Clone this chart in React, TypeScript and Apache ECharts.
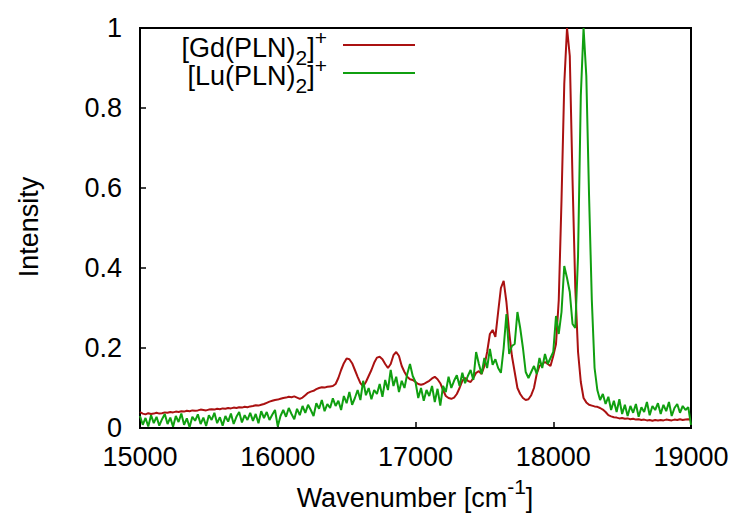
import React, { useEffect, useRef } from "react";
import * as echarts from "echarts";

// Wavenumber grid [cm^-1]
const WAVENUMBER: number[] = [
  15000, 15020, 15040, 15060, 15080, 15100, 15120, 15140, 15160, 15180,
  15200, 15220, 15240, 15260, 15280, 15300, 15320, 15340, 15360, 15380,
  15400, 15420, 15440, 15460, 15480, 15500, 15520, 15540, 15560, 15580,
  15600, 15620, 15640, 15660, 15680, 15700, 15720, 15740, 15760, 15780,
  15800, 15820, 15840, 15860, 15880, 15900, 15920, 15940, 15960, 15980,
  16000, 16020, 16040, 16060, 16080, 16100, 16120, 16140, 16160, 16180,
  16200, 16220, 16240, 16260, 16280, 16300, 16320, 16340, 16360, 16380,
  16400, 16420, 16440, 16460, 16480, 16500, 16520, 16540, 16560, 16580,
  16600, 16620, 16640, 16660, 16680, 16700, 16720, 16740, 16760, 16780,
  16800, 16820, 16840, 16860, 16880, 16900, 16920, 16940, 16960, 16980,
  17000, 17020, 17040, 17060, 17080, 17100, 17120, 17140, 17160, 17180,
  17200, 17220, 17240, 17260, 17280, 17300, 17320, 17340, 17360, 17380,
  17400, 17420, 17440, 17460, 17480, 17500, 17520, 17540, 17560, 17580,
  17600, 17620, 17640, 17660, 17680, 17700, 17720, 17740, 17760, 17780,
  17800, 17820, 17840, 17860, 17880, 17900, 17920, 17940, 17960, 17980,
  18000, 18020, 18040, 18060, 18080, 18100, 18120, 18140, 18160, 18180,
  18200, 18220, 18240, 18260, 18280, 18300, 18320, 18340, 18360, 18380,
  18400, 18420, 18440, 18460, 18480, 18500, 18520, 18540, 18560, 18580,
  18600, 18620, 18640, 18660, 18680, 18700, 18720, 18740, 18760, 18780,
  18800, 18820, 18840, 18860, 18880, 18900, 18920, 18940, 18960, 18980,
  19000,
];

// [Gd(PLN)2]+ intensity
const GD_INTENSITY: number[] = [
  0.040, 0.036, 0.034, 0.037, 0.035, 0.036, 0.038, 0.036, 0.037, 0.039,
  0.038, 0.040, 0.039, 0.041, 0.040, 0.042, 0.041, 0.043, 0.042, 0.044,
  0.043, 0.044, 0.046, 0.045, 0.044, 0.046, 0.047, 0.046, 0.048, 0.047,
  0.049, 0.048, 0.050, 0.049, 0.051, 0.050, 0.052, 0.051, 0.053, 0.052,
  0.054, 0.055, 0.057, 0.056, 0.058, 0.060, 0.063, 0.066, 0.068, 0.070,
  0.071, 0.073, 0.075, 0.076, 0.078, 0.077, 0.079, 0.076, 0.073, 0.076,
  0.082, 0.088, 0.091, 0.093, 0.097, 0.100, 0.102, 0.101, 0.103, 0.104,
  0.105, 0.110, 0.125, 0.145, 0.162, 0.174, 0.172, 0.162, 0.145, 0.128,
  0.112, 0.104, 0.115, 0.130, 0.145, 0.163, 0.176, 0.178, 0.172, 0.160,
  0.150, 0.160, 0.182, 0.190, 0.180, 0.155, 0.140, 0.128, 0.122, 0.120,
  0.115, 0.110, 0.108, 0.110, 0.114, 0.118, 0.124, 0.128, 0.122, 0.112,
  0.095, 0.080, 0.075, 0.073, 0.076, 0.085, 0.100, 0.118, 0.125, 0.118,
  0.115, 0.125, 0.138, 0.142, 0.135, 0.155, 0.190, 0.235, 0.245, 0.228,
  0.290, 0.350, 0.368, 0.315, 0.240, 0.180, 0.140, 0.100, 0.085, 0.075,
  0.070, 0.072, 0.082, 0.100, 0.135, 0.155, 0.160, 0.165, 0.160, 0.155,
  0.180, 0.210, 0.320, 0.570, 0.860, 1.000, 0.930, 0.620, 0.350, 0.190,
  0.115, 0.075, 0.064, 0.058, 0.056, 0.054, 0.053, 0.050, 0.046, 0.040,
  0.032, 0.029, 0.027, 0.026, 0.024, 0.025, 0.023, 0.024, 0.022, 0.023,
  0.021, 0.022, 0.020, 0.021, 0.019, 0.020, 0.018, 0.020, 0.019, 0.020,
  0.019, 0.021, 0.020, 0.019, 0.021, 0.020, 0.022, 0.020, 0.021, 0.022,
  0.021,
];

// [Lu(PLN)2]+ intensity
const LU_INTENSITY: number[] = [
  0.030, 0.008, 0.025, 0.004, 0.032, 0.012, 0.028, 0.006, 0.022, 0.035,
  0.010, 0.026, 0.003, 0.030, 0.015, 0.036, 0.008, 0.024, 0.002, 0.028,
  0.018, 0.034, 0.010, 0.026, 0.005, 0.032, 0.020, 0.038, 0.012, 0.027,
  0.006, 0.030, 0.016, 0.036, 0.010, 0.028, 0.040, 0.014, 0.032, 0.020,
  0.038, 0.018, 0.035, 0.012, 0.042, 0.025, 0.040, 0.020, 0.033, 0.045,
  0.004, 0.030, 0.045, 0.028, 0.050, 0.035, 0.022, 0.048, 0.032, 0.055,
  0.038, 0.058, 0.045, 0.030, 0.062, 0.048, 0.070, 0.042, 0.060, 0.050,
  0.074, 0.055, 0.068, 0.045, 0.080, 0.062, 0.090, 0.058, 0.075, 0.095,
  0.070, 0.118, 0.082, 0.100, 0.072, 0.095, 0.085, 0.110, 0.078, 0.120,
  0.095, 0.145, 0.105, 0.128, 0.090, 0.118, 0.100, 0.135, 0.160, 0.130,
  0.115, 0.075, 0.100, 0.068, 0.095, 0.080, 0.105, 0.065, 0.098, 0.056,
  0.105, 0.090, 0.128, 0.100, 0.118, 0.132, 0.105, 0.138, 0.112, 0.130,
  0.145, 0.120, 0.190, 0.160, 0.135, 0.175, 0.150, 0.198, 0.158, 0.172,
  0.150, 0.138, 0.200, 0.285, 0.185, 0.205, 0.210, 0.290, 0.250, 0.200,
  0.140, 0.125, 0.140, 0.155, 0.135, 0.175, 0.150, 0.185, 0.160, 0.175,
  0.190, 0.280, 0.235, 0.290, 0.405, 0.375, 0.340, 0.260, 0.250, 0.430,
  0.830, 1.000, 0.880, 0.580, 0.320, 0.150, 0.095, 0.070, 0.085, 0.060,
  0.078, 0.045, 0.068, 0.040, 0.072, 0.035, 0.058, 0.030, 0.055, 0.038,
  0.060, 0.028, 0.052, 0.040, 0.065, 0.032, 0.055, 0.045, 0.062, 0.035,
  0.058, 0.042, 0.065, 0.030, 0.050, 0.060, 0.038, 0.055, 0.045, 0.052,
  0.008,
];

const X_TICKS: number[] = [15000, 16000, 17000, 18000, 19000];
const Y_TICKS: number[] = [0, 0.2, 0.4, 0.6, 0.8, 1];

const GD_COLOR = "#aa1111";
const LU_COLOR = "#109f10";
const FONT = '"Liberation Sans", Arial, sans-serif';
const FS = 27;
const FS_SMALL = 21;

function measure(text: string, size: number): number {
  const c = document.createElement("canvas").getContext("2d");
  if (!c) return text.length * size * 0.55;
  c.font = `${size}px ${FONT}`;
  return c.measureText(text).width;
}

// central baseline offset (text placed with verticalAlign middle)
const mid = (baseline: number, size: number) => baseline - 0.3465 * size;

function txt(text: string, x: number, baseline: number, size: number, extra: any = {}) {
  return {
    type: "text",
    x,
    y: mid(baseline, size),
    silent: true,
    style: {
      text,
      font: `${size}px ${FONT}`,
      fill: "#000",
      align: "left",
      verticalAlign: "middle",
      textAlign: "left",
      textVerticalAlign: "middle",
    },
    ...extra,
  };
}

function legendLabel(head: string, rightX: number, baseline: number) {
  const wHead = measure(head, FS);
  const wSub = measure("2", FS_SMALL);
  const wBr = measure("]", FS);
  const wSup = measure("+", FS_SMALL);
  const total = wHead + wSub + wBr + wSup;
  let x = rightX - total;
  const els: any[] = [];
  els.push(txt(head, x, baseline, FS));
  x += wHead;
  els.push(txt("2", x, baseline + 8, FS_SMALL));
  x += wSub;
  els.push(txt("]", x, baseline, FS));
  x += wBr;
  els.push(txt("+", x, baseline - 12, FS_SMALL));
  return els;
}

function xTitle(centerX: number, baseline: number) {
  const a = "Wavenumber [cm";
  const s = "-1";
  const b = "]";
  const wa = measure(a, FS);
  const ws = measure(s, FS_SMALL);
  const wb = measure(b, FS);
  let x = centerX - (wa + ws + wb) / 2;
  const els: any[] = [];
  els.push(txt(a, x, baseline, FS));
  x += wa;
  els.push(txt(s, x, baseline - 13, FS_SMALL));
  x += ws;
  els.push(txt(b, x, baseline, FS));
  return els;
}

export default function App() {
  const ref = useRef<HTMLDivElement>(null);

  useEffect(() => {
    if (!ref.current) return;
    const chart = echarts.init(ref.current, undefined, { renderer: "svg" });

    const gdData = WAVENUMBER.map((w, i) => [w, GD_INTENSITY[i]]);
    const luData = WAVENUMBER.map((w, i) => [w, LU_INTENSITY[i]]);

    const graphic: any[] = [
      ...legendLabel("[Gd(PLN)", 327, 57),
      ...legendLabel("[Lu(PLN)", 327, 85),
      {
        type: "line",
        silent: true,
        shape: { x1: 343, y1: 45, x2: 415, y2: 45 },
        style: { stroke: GD_COLOR, lineWidth: 2 },
      },
      {
        type: "line",
        silent: true,
        shape: { x1: 343, y1: 73, x2: 415, y2: 73 },
        style: { stroke: LU_COLOR, lineWidth: 2 },
      },
      ...xTitle(415, 507),
      {
        type: "text",
        x: 29,
        y: 227,
        rotation: Math.PI / 2,
        silent: true,
        style: {
          text: "Intensity",
          font: `${FS}px ${FONT}`,
          fill: "#000",
          align: "center",
          verticalAlign: "middle",
          textAlign: "center",
          textVerticalAlign: "middle",
        },
      },
    ];

    chart.setOption({
      animation: false,
      backgroundColor: "#ffffff",
      grid: {
        left: 140,
        right: 43,
        top: 28,
        bottom: 90,
        show: true,
        borderColor: "#000",
        borderWidth: 2,
        backgroundColor: "transparent",
      },
      xAxis: {
        type: "value",
        min: X_TICKS[0],
        max: X_TICKS[X_TICKS.length - 1],
        interval: 1000,
        axisLine: { show: true, lineStyle: { color: "#000", width: 2 } },
        axisTick: { show: true, inside: true, length: 6, lineStyle: { color: "#000", width: 1.5 } },
        axisLabel: {
          show: true,
          margin: 15,
          color: "#000",
          fontSize: FS,
          fontFamily: FONT,
          showMinLabel: true,
          showMaxLabel: true,
          formatter: (v: number) => String(v),
        },
        splitLine: { show: false },
      },
      yAxis: {
        type: "value",
        min: Y_TICKS[0],
        max: Y_TICKS[Y_TICKS.length - 1],
        interval: 0.2,
        axisLine: { show: true, lineStyle: { color: "#000", width: 2 } },
        axisTick: { show: true, inside: true, length: 6, lineStyle: { color: "#000", width: 1.5 } },
        axisLabel: {
          show: true,
          margin: 18,
          color: "#000",
          fontSize: FS,
          fontFamily: FONT,
          showMinLabel: true,
          showMaxLabel: true,
          formatter: (v: number) => (v === 0 ? "0" : v === 1 ? "1" : v.toFixed(1)),
        },
        splitLine: { show: false },
      },
      series: [
        {
          name: "[Gd(PLN)2]+",
          type: "line",
          data: gdData,
          showSymbol: false,
          symbol: "none",
          lineStyle: { color: GD_COLOR, width: 2 },
          itemStyle: { color: GD_COLOR },
          silent: true,
          z: 2,
        },
        {
          name: "[Lu(PLN)2]+",
          type: "line",
          data: luData,
          showSymbol: false,
          symbol: "none",
          lineStyle: { color: LU_COLOR, width: 2 },
          itemStyle: { color: LU_COLOR },
          silent: true,
          z: 3,
        },
      ],
      graphic,
    });

    return () => chart.dispose();
  }, []);

  return (
    <div
      ref={ref}
      style={{ position: "fixed", left: 0, top: 0, width: 734, height: 518, background: "#fff" }}
    />
  );
}
